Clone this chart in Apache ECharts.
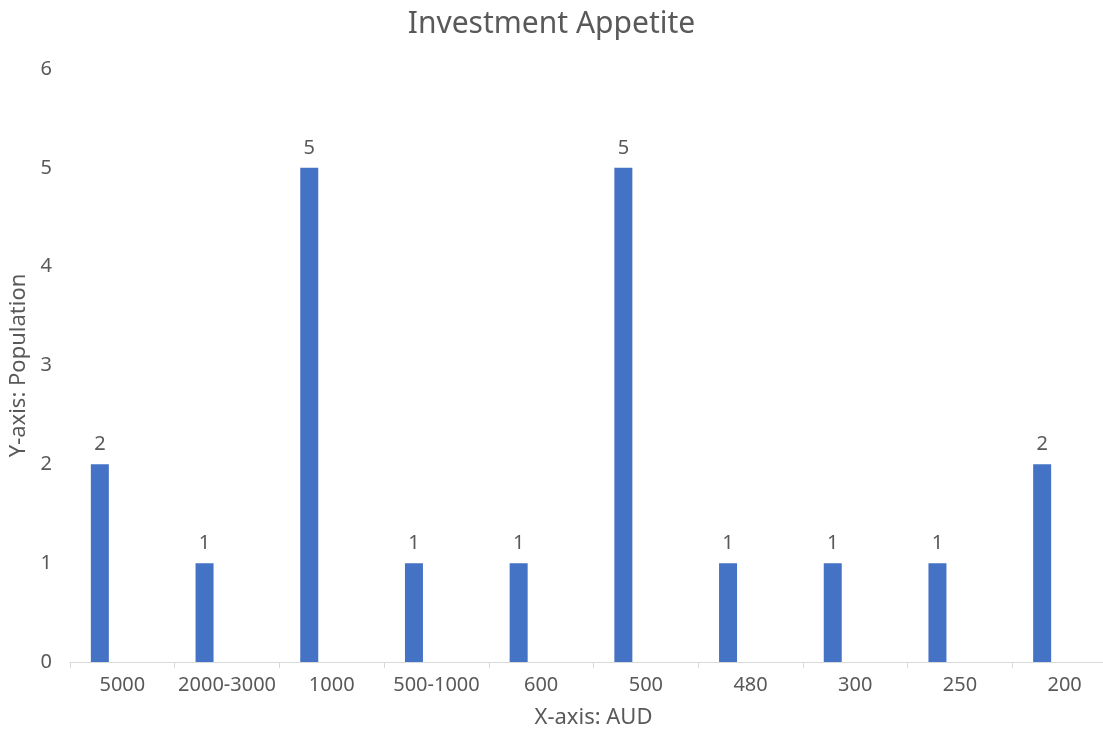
<!DOCTYPE html>
<html>
<head>
<meta charset="utf-8">
<script src="https://cdn.jsdelivr.net/npm/echarts@6/dist/echarts.min.js"></script>
<style>html,body{margin:0;padding:0;background:#fff}#c{width:1103px;height:732px}</style>
</head>
<body>
<div id="c"></div>
<script>
const categories = ['5000', '2000-3000', '1000', '500-1000', '600', '500', '480', '300', '250', '200'];
const population = [2, 1, 5, 1, 1, 5, 1, 1, 1, 2];
const emptySeries = [null, null, null, null, null, null, null, null, null, null];
const yTicks = { min: 0, max: 6, interval: 1 };

const FONT = 'Noto Sans';
const GRAY = '#595959';
const chart = echarts.init(document.getElementById('c'), null, { renderer: 'canvas' });
chart.setOption({
  backgroundColor: '#fff',
  animation: false,
  title: {
    text: 'Investment Appetite',
    left: 'center',
    top: 4,
    textStyle: { fontFamily: FONT, fontSize: 30, fontWeight: 'normal', color: GRAY }
  },
  grid: { left: 70, right: -14, top: 69, bottom: 70, containLabel: false, outerBoundsMode: 'none' },
  xAxis: {
    type: 'category',
    data: categories,
    boundaryGap: true,
    name: 'X-axis: AUD',
    nameLocation: 'middle',
    nameGap: 45,
    nameTextStyle: { fontFamily: FONT, fontSize: 22, color: GRAY },
    axisLine: { show: true, lineStyle: { color: '#d9d9d9', width: 1 } },
    axisTick: { show: true, length: 6, lineStyle: { color: '#d9d9d9' } },
    axisLabel: { fontFamily: FONT, fontSize: 20, color: GRAY, margin: 13, interval: 0 },
    splitLine: { show: false }
  },
  yAxis: {
    type: 'value',
    min: yTicks.min,
    max: yTicks.max,
    interval: yTicks.interval,
    name: 'Y-axis: Population',
    nameLocation: 'middle',
    nameGap: 38,
    nameTextStyle: { fontFamily: FONT, fontSize: 22, color: GRAY },
    axisLine: { show: false },
    axisTick: { show: false },
    axisLabel: { fontFamily: FONT, fontSize: 20, color: GRAY, margin: 18 },
    splitLine: { show: false }
  },
  series: [
    {
      type: 'bar',
      data: population,
      barWidth: 18,
      barGap: '150%',
      itemStyle: { color: '#4472C4' },
      label: { show: true, position: 'top', distance: 10, fontFamily: FONT, fontSize: 20, color: GRAY }
    },
    {
      type: 'bar',
      data: emptySeries,
      barWidth: 18,
      itemStyle: { color: 'transparent' }
    }
  ]
});
</script>
</body>
</html>
